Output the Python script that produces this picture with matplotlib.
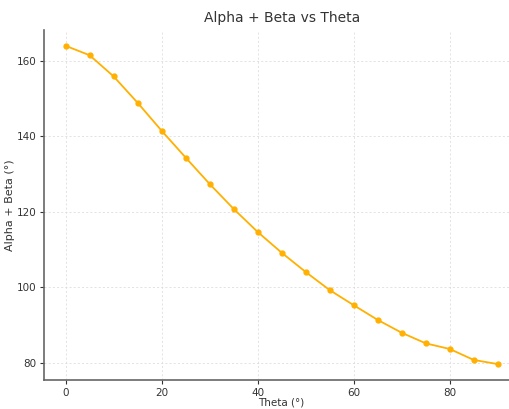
import matplotlib.pyplot as plt

theta = [0, 5, 10, 15, 20, 25, 30, 35, 40, 45, 50, 55, 60, 65, 70, 75, 80, 85, 90]
alpha_beta = [164.0, 161.5, 155.9, 148.9, 141.5, 134.4, 127.4, 120.8, 114.7, 109.2,
              104.1, 99.3, 95.3, 91.4, 88.0, 85.2, 83.7, 80.8, 79.7]


def main():
    fig = plt.figure(figsize=(5.1, 4.09), dpi=100)
    # axes run a little past the right edge, like the cropped original
    ax = fig.add_axes([0.0863, 0.0709, 0.932, 0.856])

    ax.plot(theta, alpha_beta, color="#ffb000", marker="o", markersize=3.5, linewidth=1.3)

    ax.set_title("Alpha + Beta vs Theta", fontsize=10, color="#333333", pad=6)
    ax.set_xlabel("Theta (°)", fontsize=7.5, color="#333333")
    ax.set_ylabel("Alpha + Beta (°)", fontsize=8, color="#333333")
    ax.xaxis.set_label_coords(0.499, -0.05)
    ax.yaxis.set_label_coords(-0.06, 0.5)
    ax.set_xticks([0, 20, 40, 60, 80])
    ax.set_yticks([80, 100, 120, 140, 160])
    ax.tick_params(labelsize=7.5, colors="#333333", length=3, width=0.8, pad=2.5)

    ax.grid(True, linestyle=(0, (3, 3)), linewidth=0.5, color="#d8d8d8")
    for side in ("top", "right"):
        ax.spines[side].set_visible(False)
    for side in ("left", "bottom"):
        ax.spines[side].set_color("#666666")
        ax.spines[side].set_linewidth(1.2)

    fig.savefig("out.png", dpi=100)
    plt.close(fig)


if __name__ == "__main__":
    main()
